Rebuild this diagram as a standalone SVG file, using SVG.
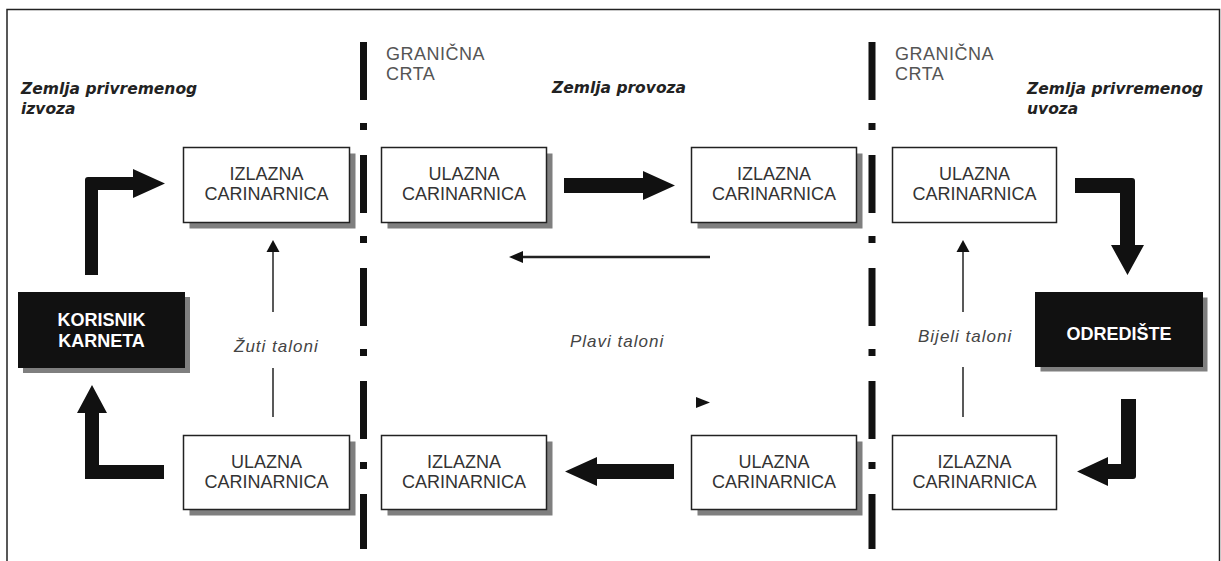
<svg xmlns="http://www.w3.org/2000/svg" width="1221" height="561" viewBox="0 0 1221 561">
<defs>
<style>
.box{fill:#fff;stroke:#222;stroke-width:1.5}
.sh{fill:#7f7f7f}
.bt{font-family:"Liberation Sans",Arial,sans-serif;font-size:18px;fill:#333;text-anchor:middle}
.dk{fill:#111}
.dt{font-family:"Liberation Sans",Arial,sans-serif;font-size:18px;font-weight:bold;fill:#fff;text-anchor:middle}
.zem{font-family:"DejaVu Sans",Verdana,sans-serif;font-size:15.5px;font-weight:bold;font-style:italic;fill:#222}
.gr{font-family:"Liberation Sans",Arial,sans-serif;font-size:18px;fill:#555;letter-spacing:0.5px}
.tal{font-family:"Liberation Sans",Arial,sans-serif;font-size:17px;font-style:italic;fill:#444;letter-spacing:1px}
.bl{stroke:#111;stroke-width:7;stroke-dasharray:58 23 7 25;fill:none}
.thick{fill:#111}
.thin{stroke:#222;stroke-width:1.5;fill:none}
.head{fill:#111}
</style>
</defs>
<rect width="1221" height="561" fill="#fff"/>
<path d="M7,561 V9.5 H1219.5 V561" fill="none" stroke="#222" stroke-width="1.5"/>

<g id="borders">
<line class="bl" x1="363.5" y1="42" x2="363.5" y2="549"/>
<line class="bl" x1="872" y1="42" x2="872" y2="549"/>
</g>

<g id="labels">
<text class="zem" x="21" y="94">Zemlja privremenog</text>
<text class="zem" x="21" y="114">izvoza</text>
<text class="zem" x="552" y="93">Zemlja provoza</text>
<text class="zem" x="1027" y="94">Zemlja privremenog</text>
<text class="zem" x="1027" y="114">uvoza</text>
<text class="gr" x="386" y="60">GRANIČNA</text>
<text class="gr" x="386" y="80">CRTA</text>
<text class="gr" x="895" y="60">GRANIČNA</text>
<text class="gr" x="895" y="80">CRTA</text>
<text class="tal" x="234" y="352">Žuti taloni</text>
<text class="tal" x="570" y="347">Plavi taloni</text>
<text class="tal" x="918" y="342">Bijeli taloni</text>
</g>

<g id="korisnik">
<rect class="sh" x="23" y="297" width="167" height="76"/>
<rect class="dk" x="18" y="292" width="167" height="76"/>
<text class="dt" x="101.5" y="326">KORISNIK</text>
<text class="dt" x="101.5" y="347">KARNETA</text>
</g>

<g id="odrediste">
<rect class="sh" x="1040" y="297" width="168" height="75" stroke="#fff" stroke-width="1"/>
<rect class="dk" x="1035" y="292" width="168" height="75"/>
<text class="dt" x="1119" y="340">ODREDIŠTE</text>
</g>

<g id="top1">
<rect class="sh" x="189.5" y="153.5" width="166" height="75"/>
<rect class="box" x="183.5" y="147.5" width="166" height="75"/>
<text class="bt" x="266.5" y="180">IZLAZNA</text>
<text class="bt" x="266.5" y="200">CARINARNICA</text>
</g>
<g id="top2">
<rect class="sh" x="387.5" y="153.5" width="165" height="75"/>
<rect class="box" x="381.5" y="147.5" width="165" height="75"/>
<text class="bt" x="464" y="180">ULAZNA</text>
<text class="bt" x="464" y="200">CARINARNICA</text>
</g>
<g id="top3">
<rect class="sh" x="697.5" y="153.5" width="165" height="75"/>
<rect class="box" x="691.5" y="147.5" width="165" height="75"/>
<text class="bt" x="774" y="180">IZLAZNA</text>
<text class="bt" x="774" y="200">CARINARNICA</text>
</g>
<g id="top4">
<rect class="box" x="892.5" y="147.5" width="164" height="75"/>
<text class="bt" x="974.5" y="180">ULAZNA</text>
<text class="bt" x="974.5" y="200">CARINARNICA</text>
</g>

<g id="bot1">
<rect class="sh" x="189.5" y="441.5" width="166" height="74"/>
<rect class="box" x="183.5" y="435.5" width="166" height="74"/>
<text class="bt" x="266.5" y="467.5">ULAZNA</text>
<text class="bt" x="266.5" y="487.5">CARINARNICA</text>
</g>
<g id="bot2">
<rect class="sh" x="387.5" y="441.5" width="165" height="74"/>
<rect class="box" x="381.5" y="435.5" width="165" height="74"/>
<text class="bt" x="464" y="467.5">IZLAZNA</text>
<text class="bt" x="464" y="487.5">CARINARNICA</text>
</g>
<g id="bot3">
<rect class="sh" x="697.5" y="441.5" width="165" height="74"/>
<rect class="box" x="691.5" y="435.5" width="165" height="74"/>
<text class="bt" x="774" y="467.5">ULAZNA</text>
<text class="bt" x="774" y="487.5">CARINARNICA</text>
</g>
<g id="bot4">
<rect class="box" x="892.5" y="435.5" width="164" height="74"/>
<text class="bt" x="974.5" y="467.5">IZLAZNA</text>
<text class="bt" x="974.5" y="487.5">CARINARNICA</text>
</g>

<g id="connectors">
<path class="thick" d="M85,275 L85,180 Q85,177 88,177 L133,177 L133,169 L165,183.5 L133,198 L133,190 L98,190 L98,275 Z"/>
<path class="thick" d="M164,465 L99,465 L99,413 L107,413 L92,385 L77,413 L85,413 L85,479 L164,479 Z"/>
<path class="thick" d="M564,178 L643,178 L643,171 L675,185.5 L643,200 L643,193 L564,193 Z"/>
<path class="thick" d="M674,464 L597,464 L597,457 L565,471.5 L597,486 L597,479 L674,479 Z"/>
<path class="thick" d="M1075,178 L1132,178 Q1135,178 1135,181 L1135,245 L1144,245 L1127.5,275 L1111,245 L1120,245 L1120,193 L1075,193 Z"/>
<path class="thick" d="M1121,399 L1136,399 L1136,476 Q1136,479 1133,479 L1108,479 L1108,486 L1077,471.5 L1108,457 L1108,464 L1121,464 Z"/>
<line class="thin" x1="273" y1="417" x2="273" y2="368"/>
<line class="thin" x1="273" y1="312" x2="273" y2="251"/>
<polygon class="head" points="273,240 279.5,252 266.5,252"/>
<line class="thin" x1="963" y1="417" x2="963" y2="367"/>
<line class="thin" x1="963" y1="312" x2="963" y2="251"/>
<polygon class="head" points="963,240 969.5,252 956.5,252"/>
<line x1="710" y1="257" x2="521" y2="257" stroke="#222" stroke-width="2.5"/>
<polygon class="head" points="509,257 523,251 523,263"/>
<polygon class="head" points="710,402.5 696,397 696,408"/>
</g>
</svg>
